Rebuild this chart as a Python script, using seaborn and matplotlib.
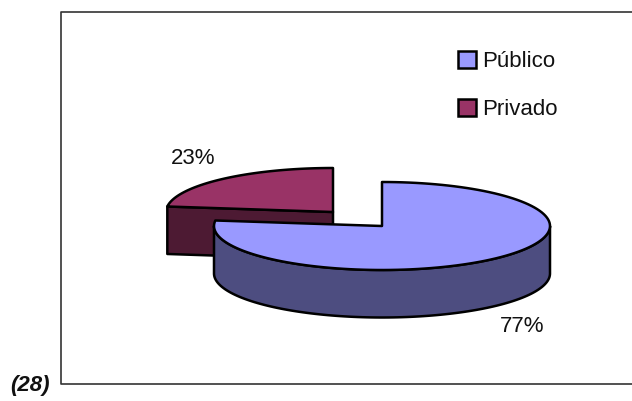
import numpy as np
import matplotlib
matplotlib.use("Agg")
import matplotlib.pyplot as plt
from matplotlib.patches import Patch, Polygon
import seaborn as sns

categories = ["Público", "Privado"]
shares = [77, 23]
share_labels = ["77%", "23%"]
panel_label = "(28)"

sns.set_theme(style="white")
plt.rcParams["font.family"] = ["Liberation Sans", "DejaVu Sans"]

top_colors = sns.color_palette(["#9999ff", "#993366"])
side_colors = sns.color_palette(["#4d4d80", "#4d1a33"])


def rim(cx, cy, start, stop, rx=168, ry=44):
    # angles are clockwise from 12 o'clock, in degrees
    t = np.radians(np.linspace(start, stop, 120))
    return np.column_stack([cx + rx * np.sin(t), cy - ry * np.cos(t)])


def add_poly(ax, pts, color):
    ax.add_patch(Polygon(pts, closed=True, facecolor=color, edgecolor="black",
                         linewidth=1.8, joinstyle="round"))


fig = plt.figure(figsize=(6.32, 4.01), dpi=100)
ax = fig.add_axes([0, 0, 1, 1])
ax.set_xlim(0, 632)
ax.set_ylim(401, 0)
ax.axis("off")

# chart frame, open on the right
ax.plot([632, 61, 61, 632], [12, 12, 384, 384], color="#333333", lw=1.2)

depth = 47.5
sweep_pub = 360 * shares[0] / sum(shares)
sweep_pri = 360 * shares[1] / sum(shares)

# private slice goes back and left, its cut face shows
pri_c = (333, 212)
pri_rim = rim(*pri_c, -sweep_pri, 0, rx=167)
cut = np.array([pri_rim[0], pri_c])
add_poly(ax, np.vstack([cut, cut[::-1] + [0, depth]]), side_colors[1])
add_poly(ax, np.vstack([pri_rim, pri_c]), top_colors[1])

# public slice in front, wall only on the visible half
pub_c = (382, 226)
wall = rim(*pub_c, 90, 270)
add_poly(ax, np.vstack([wall, wall[::-1] + [0, depth]]), side_colors[0])
add_poly(ax, np.vstack([pub_c, rim(*pub_c, 0, sweep_pub)]), top_colors[0])

ax.text(522, 326, share_labels[0], fontsize=16, ha="center", va="center", color="#111111")
ax.text(193, 158, share_labels[1], fontsize=16, ha="center", va="center", color="#111111")
ax.text(30, 385, panel_label, fontsize=16, ha="center", va="center",
        fontweight="bold", fontstyle="italic", color="#111111")

handles = [Patch(facecolor=c, edgecolor="black", linewidth=1.8) for c in top_colors]
ax.legend(handles, categories, loc="upper left", bbox_to_anchor=(458, 51),
          bbox_transform=ax.transData, frameon=False, fontsize=16,
          handlelength=0.8, handleheight=0.8, handletextpad=0.3,
          labelspacing=1.2, borderpad=0, borderaxespad=0, labelcolor="#111111")

fig.savefig("out.png", dpi=100)
